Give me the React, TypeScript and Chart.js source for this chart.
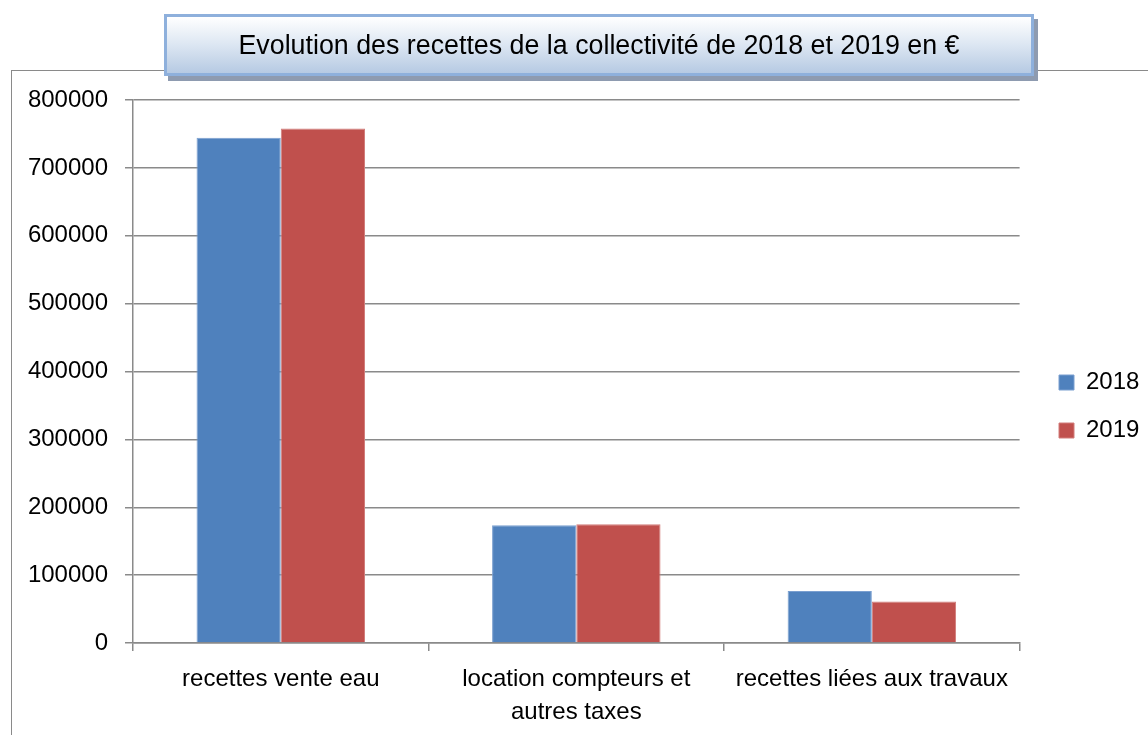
import React, { useEffect, useRef } from "react";
import { Chart, registerables } from "chart.js";

Chart.register(...registerables);

const titleText = "Evolution des recettes de la collectivité de 2018 et 2019 en €";
const categories: (string | string[])[] = [
  "recettes vente eau",
  ["location compteurs et", "autres taxes"],
  "recettes liées aux travaux",
];
const seriesNames = ["2018", "2019"];
const values2018 = [744500, 173300, 76500];
const values2019 = [758000, 174800, 61100];
const yTickValues = [0, 100000, 200000, 300000, 400000, 500000, 600000, 700000, 800000];

const FONT = "'Liberation Sans', Arial, sans-serif";
const GRID = "#8a8a8a";

const legendPlace = {
  id: "legendPlace",
  afterLayout(chart: any) {
    const l = chart.legend;
    if (!l) return;
    const dx = 1059 - (l.left + 24);
    l.left += dx;
    l.right += dx;
    const firstCenter = (l.top + 24 + l.bottom - 96) / 2 + 12;
    const dy = 382.5 - firstCenter;
    l.top += dy;
    l.bottom += dy;
  },
};

export default function App() {
  const ref = useRef<HTMLCanvasElement | null>(null);

  useEffect(() => {
    if (!ref.current) return;
    const chart = new Chart(ref.current, {
      type: "bar",
      data: {
        labels: categories,
        datasets: [
          {
            label: seriesNames[0],
            data: values2018,
            backgroundColor: "#4f81bd",
            borderColor: "#7a9fd0",
            borderWidth: 1,
            categoryPercentage: 0.57,
            barPercentage: 1,
          },
          {
            label: seriesNames[1],
            data: values2019,
            backgroundColor: "#c0504d",
            borderColor: "#d27d7b",
            borderWidth: 1,
            categoryPercentage: 0.57,
            barPercentage: 1,
          },
        ],
      },
      options: {
        animation: false,
        responsive: false,
        maintainAspectRatio: false,
        layout: { padding: { top: 100, left: 0, right: 14, bottom: 0 } },
        plugins: {
          title: { display: false },
          tooltip: { enabled: false },
          legend: {
            display: true,
            position: "right",
            align: "center",
            labels: {
              boxWidth: 15,
              boxHeight: 15,
              padding: 24,
              color: "#000",
              font: { family: FONT, size: 24 },
            },
          },
        },
        scales: {
          x: {
            offset: true,
            grid: {
              display: true,
              offset: true,
              drawOnChartArea: false,
              drawTicks: true,
              tickLength: 8,
              color: GRID,
              lineWidth: 1.5,
            },
            border: { display: true, color: GRID, width: 1.5 },
            ticks: {
              color: "#000",
              padding: 12,
              maxRotation: 0,
              autoSkip: false,
              font: { family: FONT, size: 24, lineHeight: 1.375 },
            },
            afterFit: (s: any) => {
              s.height = 92;
            },
          },
          y: {
            min: 0,
            max: 800000,
            afterBuildTicks: (s: any) => {
              s.ticks = yTickValues.map((v) => ({ value: v }));
            },
            grid: {
              color: GRID,
              lineWidth: 1.5,
              drawTicks: true,
              tickLength: 8,
            },
            border: { display: true, color: GRID, width: 1.5 },
            ticks: {
              color: "#000",
              padding: 17,
              font: { family: FONT, size: 24 },
              callback: (v: any) => String(v),
            },
            afterFit: (s: any) => {
              s.width = 133;
            },
          },
        },
      },
      plugins: [legendPlace],
    });
    return () => chart.destroy();
  }, []);

  return (
    <div
      style={{
        position: "fixed",
        left: 0,
        top: 0,
        width: 1148,
        height: 735,
        overflow: "hidden",
        background: "#fff",
      }}
    >
      <div
        style={{
          position: "absolute",
          left: 11,
          top: 70,
          width: 1137,
          height: 665,
          borderLeft: "1.5px solid #8a8a8a",
          borderTop: "1.5px solid #8a8a8a",
          boxSizing: "border-box",
        }}
      />
      <canvas
        ref={ref}
        width={1148}
        height={735}
        style={{ position: "absolute", left: 0, top: 0, width: 1148, height: 735 }}
      />
      <div
        style={{
          position: "absolute",
          left: 164,
          top: 14,
          width: 870,
          height: 62,
          boxSizing: "border-box",
          border: "3px solid #8eb0dc",
          background: "linear-gradient(to bottom, #ffffff 0%, #dce6f2 50%, #b6cae3 100%)",
          boxShadow: "4px 5px 0 #8e9bb0",
          display: "flex",
          alignItems: "center",
          justifyContent: "center",
          fontFamily: FONT,
          fontSize: 26.8,
          color: "#000",
        }}
      >
        {titleText}
      </div>
    </div>
  );
}
